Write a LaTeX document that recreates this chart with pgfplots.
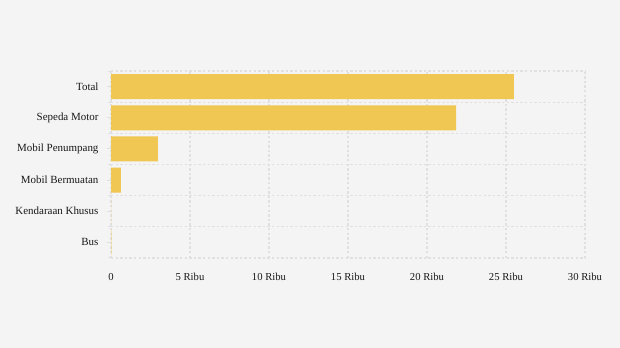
\documentclass[border=0pt]{standalone}
\usepackage{pgfplots}
\pgfplotsset{compat=1.18}
\usepackage{fontspec}
\setmainfont{Liberation Serif}
\definecolor{bg}{HTML}{F4F4F4}
\definecolor{bar}{HTML}{F0C752}
\definecolor{gridc}{HTML}{E0E0E0}
\begin{document}
\begin{tikzpicture}
\fill[bg] (0,0) rectangle (620bp,348bp);
\begin{axis}[
  at={(111bp,90bp)}, anchor=south west,
  scale only axis, width=474bp, height=187bp,
  xbar, bar width=25bp,
  xmin=0, xmax=30, ymin=-0.5, ymax=5.5,
  xtick={0,5,...,30},
  xticklabels={0,5 Ribu,10 Ribu,15 Ribu,20 Ribu,25 Ribu,30 Ribu},
  ytick={0,1,2,3,4,5},
  yticklabels={Bus,Kendaraan Khusus,Mobil Bermuatan,Mobil Penumpang,Sepeda Motor,Total},
  minor ytick={-0.5,0.5,...,5.5},
  xmajorgrids, yminorgrids,
  major grid style={gridc, dash pattern=on 2.3bp off 2.3bp, line width=1.3bp},
  minor grid style={gridc, dash pattern=on 2.3bp off 2.3bp, line width=1.3bp},
  axis line style={draw=none},
  yticklabel style={font=\fontsize{11}{13}\selectfont, text=black!90, xshift=-5bp},
  xticklabel style={font=\fontsize{10.7}{13}\selectfont, text=black!90, yshift=-12bp},
  xtick style={draw=none},
  ytick style={gridc, line width=1bp},
  major tick length=4bp,
  ytick pos=left,
]
\addplot[fill=bar, draw=none] coordinates {
  (0.02,0) (0.01,1) (0.63,2) (2.97,3) (21.85,4) (25.5,5)
};
\end{axis}
\end{tikzpicture}
\end{document}
